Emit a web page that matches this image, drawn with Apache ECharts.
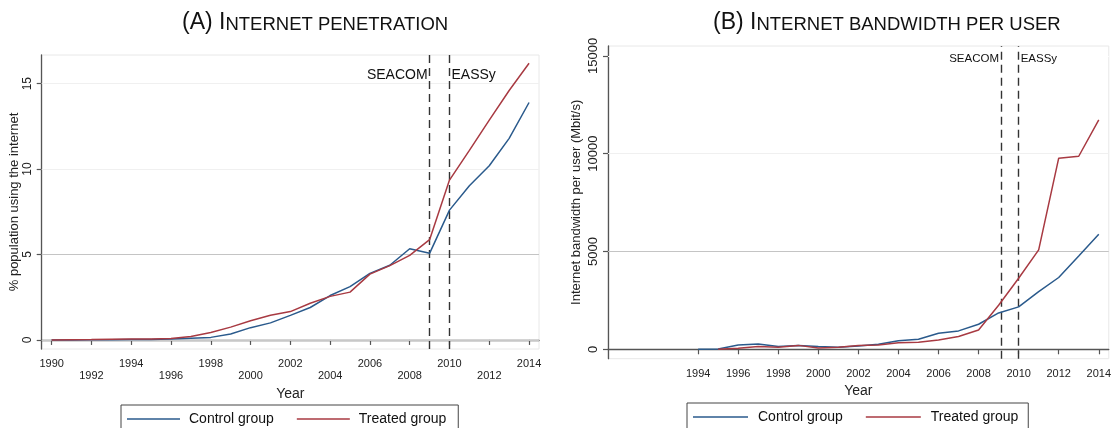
<!DOCTYPE html>
<html>
<head>
<meta charset="utf-8">
<script src="https://cdn.jsdelivr.net/npm/echarts@6/dist/echarts.min.js"></script>
<style>html,body{margin:0;padding:0;background:#fff;}#c{width:1114px;height:428px;}</style>
</head>
<body>
<div id="c"></div>
<script>
// ---- data ----
var penYears = [1990,1991,1992,1993,1994,1995,1996,1997,1998,1999,2000,2001,2002,2003,2004,2005,2006,2007,2008,2009,2010,2011,2012,2013,2014];
var penControl = [0,0,0.01,0.01,0.02,0.03,0.05,0.1,0.15,0.35,0.72,1.0,1.44,1.9,2.6,3.12,3.9,4.37,5.34,5.07,7.6,9.03,10.2,11.8,13.9];
var penTreated = [0,0.01,0.02,0.04,0.05,0.06,0.08,0.2,0.44,0.75,1.12,1.44,1.66,2.15,2.55,2.8,3.85,4.35,4.95,5.87,9.36,11.1,12.87,14.6,16.2];

var bwYears = [1994,1995,1996,1997,1998,1999,2000,2001,2002,2003,2004,2005,2006,2007,2008,2009,2010,2011,2012,2013,2014];
var bwControl = [0,10,220,270,140,190,140,100,170,260,440,510,820,940,1280,1860,2170,2950,3670,4770,5880];
var bwTreated = [null,0,50,140,100,200,70,100,190,220,340,360,480,650,990,2250,3630,5080,9770,9870,11730];

var penXTicks = [1990,1992,1994,1996,1998,2000,2002,2004,2006,2008,2010,2012,2014];
var bwXTicks = [1994,1996,1998,2000,2002,2004,2006,2008,2010,2012,2014];
var penYTicks = [0,5,10,15];
var bwYTicks = [0,5000,10000,15000];
var penGrid = [0,5,10,15];
var bwGrid = [5000,10000,15000];
var cableEvents = [{name:'SEACOM', year:2009}, {name:'EASSy', year:2010}];
var bwCableYears = [2009.12, 2010];
var seriesNames = ['Control group','Treated group'];

// ---- styles ----
var FONT = 'Liberation Sans, Arial, sans-serif';
var BLUE = '#2a5a8c', RED = '#a83a42', AX = '#555555';
var gridColorsPen = ['#c8c8c8','#c4c4c4','#f0f0f0','#f0f0f0'];
var gridColorsBw = ['#c4c4c4','#f0f0f0','#ffffff'];

function pairs(xs, ys){ var o=[]; for(var i=0;i<xs.length;i++){ if(ys[i]!==null) o.push([xs[i], ys[i]]); } return o; }

function xAxisOf(idx, ticks, stagger, nameGap){
  return {
    type:'value', gridIndex:idx, min:1989.5, max:2014.5,
    name:'Year', nameLocation:'middle', nameGap:nameGap,
    nameTextStyle:{fontFamily:FONT, fontSize:14, color:'#222'},
    axisLine:{show:true, lineStyle:{color:AX, width:1.3}},
    axisTick:{show:true, length:5, inside:false, customValues:ticks, lineStyle:{color:AX, width:1.2}},
    axisLabel:{customValues:ticks, margin:9, fontFamily:FONT, fontSize:11, color:'#222', lineHeight:12,
      formatter:function(v){ if(stagger){ var k=ticks.indexOf(v); return (k%2===1) ? '\n'+v : ''+v; } return ''+v; }},
    splitLine:{show:false}
  };
}
function yAxisOf(idx, ticks, min, max, name, nameGap, fs){
  return {
    type:'value', gridIndex:idx, min:min, max:max,
    name:name, nameLocation:'middle', nameGap:nameGap, nameRotate:90,
    nameTextStyle:{fontFamily:FONT, fontSize:13, color:'#222'},
    axisLine:{show:true, lineStyle:{color:AX, width:1.3}},
    axisTick:{show:true, length:5, customValues:ticks, lineStyle:{color:AX, width:1.2}},
    axisLabel:{customValues:ticks, rotate:90, margin:8, fontFamily:FONT, fontSize:fs, color:'#222',
      formatter:function(v){ return String(v); }},
    splitLine:{show:false}
  };
}

function guideSeries(idx, gridVals, gridCols, cableXs, labelY, labelFs){
  var ml = [];
  gridVals.forEach(function(v,i){ ml.push({yAxis:v, lineStyle:{color:gridCols[i], width:1, type:'solid'}}); });
  cableXs.forEach(function(x){ ml.push({xAxis:x, lineStyle:{color:'#333', width:1.4, type:[8,5]}}); });
  var mp = cableEvents.map(function(e,i){
    return {name:e.name, coord:[cableXs[i], labelY],
      label:{position: i===0 ? 'left':'right', distance: 2}};
  });
  return {
    type:'line', name:'_guide'+idx, xAxisIndex:idx, yAxisIndex:idx, data:[], silent:true, z:1,
    markLine:{silent:true, z:1, symbol:['none','none'], label:{show:false}, data:ml, animation:false},
    markPoint:{symbol:'circle', symbolSize:0, silent:true, animation:false,
      label:{show:true, formatter:'{b}', fontFamily:FONT, fontSize:labelFs, color:'#111'}, data:mp}
  };
}

function dataSeries(idx, xs, ys, name, color){
  return {type:'line', name:name, xAxisIndex:idx, yAxisIndex:idx, data:pairs(xs, ys),
    showSymbol:false, symbol:'none', z:3, lineStyle:{color:color, width:1.5}, itemStyle:{color:color},
    animation:false};
}

function legendOf(left, top, gap, iw, tp, pr){
  return {data:seriesNames, left:left, top:top, orient:'horizontal',
    borderColor:'#444', borderWidth:1, padding:[7,pr,14,6], itemGap:gap,
    icon:'rect', itemWidth:iw, itemHeight:1.6,
    textStyle:{fontFamily:FONT, fontSize:14, color:'#111', padding:[0,0,0,tp]}};
}

var titleRich = {
  a:{fontSize:23, fontFamily:FONT, fontWeight:'normal', color:'#111', verticalAlign:'bottom'},
  b:{fontSize:18.5, fontFamily:FONT, fontWeight:'normal', color:'#111', verticalAlign:'bottom'}
};

var chart = echarts.init(document.getElementById('c'), null, {renderer:'canvas'});
chart.setOption({
  backgroundColor:'#ffffff',
  animation:false,
  title:[
    {text:'{a|(A) I}{b|NTERNET PENETRATION}', left:177, top:6, textStyle:{fontWeight:'normal', rich:titleRich}},
    {text:'{a|(B) I}{b|NTERNET BANDWIDTH PER USER}', left:708, top:6, textStyle:{fontWeight:'normal', rich:titleRich}}
  ],
  legend:[legendOf(121, 405, 23, 53, 4, 12), legendOf(687, 403, 23, 55, 5, 10)],
  grid:[
    {left:41.7, top:55, width:497.3, height:294, show:true, borderColor:'#e8e8e8', borderWidth:1, backgroundColor:'transparent'},
    {left:608, top:46, width:503, height:312.7, show:true, borderColor:'#e8e8e8', borderWidth:1, backgroundColor:'transparent'}
  ],
  xAxis:[xAxisOf(0, penXTicks, true, 31), xAxisOf(1, bwXTicks, false, 21)],
  yAxis:[yAxisOf(0, penYTicks, -0.53, 16.68, '% population using the internet', 18, 12),
         yAxisOf(1, bwYTicks, -481, 15506, 'Internet bandwidth per user (Mbit/s)', 25, 13)],
  series:[
    guideSeries(0, penGrid, gridColorsPen, [2009, 2010], 15.5, 14),
    guideSeries(1, bwGrid, gridColorsBw, bwCableYears, 14840, 11.5),
    dataSeries(0, penYears, penControl, seriesNames[0], BLUE),
    dataSeries(0, penYears, penTreated, seriesNames[1], RED),
    dataSeries(1, bwYears, bwControl, seriesNames[0], BLUE),
    dataSeries(1, bwYears, bwTreated, seriesNames[1], RED)
  ]
});
</script>
</body>
</html>
